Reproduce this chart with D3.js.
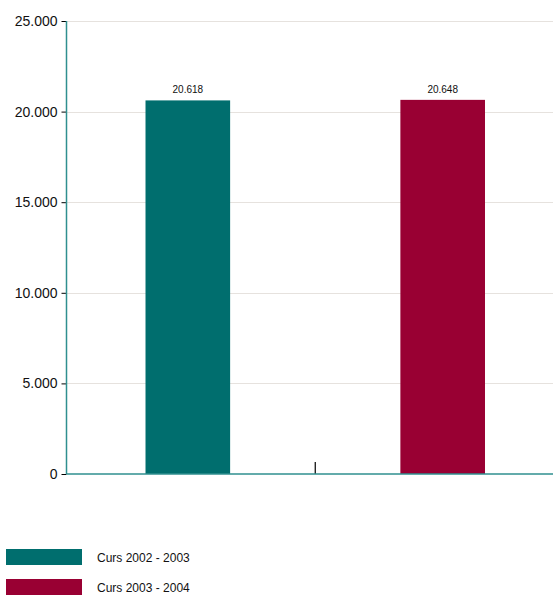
<!DOCTYPE html>
<html><head><meta charset="utf-8">
<script src="https://cdn.jsdelivr.net/npm/d3@7"></script>
<style>body{margin:0;background:#fff;}svg{display:block;font-family:"Liberation Sans",Arial,sans-serif;}</style>
</head><body><svg id="c" width="553" height="596"></svg>
<script>
const categories = [""];
const seriesNames = ["Curs 2002 - 2003", "Curs 2003 - 2004"];
const seriesValues = [20618, 20648];
const seriesColors = ["#006e6e", "#990033"];
const yTicks = [0, 5000, 10000, 15000, 20000, 25000];

const svg = d3.select("#c");
const mLeft = 66.5, mRight = 564, mTop = 21, mBottom = 474;
const y = d3.scaleLinear().domain([0, 25000]).range([mBottom, mTop]);
const x0 = d3.scaleBand().domain(categories).range([mLeft, mRight]);
const x1 = d3.scaleBand().domain(seriesNames).range([0, x0.bandwidth()]).paddingInner(0.668).paddingOuter(0.31);
const fmt = v => d3.format(",")(v).replace(/,/g, ".");

// gridlines
svg.append("g").selectAll("line").data(yTicks.filter(d => d > 0)).join("line")
  .attr("x1", mLeft).attr("x2", 553).attr("y1", d => Math.round(y(d)) + 0.5).attr("y2", d => Math.round(y(d)) + 0.5)
  .attr("stroke", "#e6e2de").attr("stroke-width", 1);

// y axis
const yAxis = svg.append("g").attr("transform", `translate(${mLeft},0)`)
  .call(d3.axisLeft(y).tickValues(yTicks).tickFormat(fmt).tickSize(5).tickPadding(4));
yAxis.select(".domain").remove();
yAxis.selectAll(".tick line").attr("stroke", "#000");
yAxis.selectAll(".tick text").attr("font-size", 14).attr("fill", "#111").attr("font-family", "Liberation Sans, Arial, sans-serif");
svg.append("line").attr("x1", mLeft).attr("x2", mLeft).attr("y1", mTop).attr("y2", mBottom).attr("stroke", "#2f8f8f").attr("stroke-width", 1.5);

// bars
const g = svg.append("g");
categories.forEach(cat => {
  seriesNames.forEach((s, i) => {
    const bx = x0(cat) + x1(s);
    g.append("rect").attr("x", bx).attr("y", y(seriesValues[i]))
      .attr("width", x1.bandwidth()).attr("height", y(0) - y(seriesValues[i]))
      .attr("fill", seriesColors[i]);
    g.append("text").attr("x", bx + x1.bandwidth() / 2).attr("y", y(seriesValues[i]) - 7)
      .attr("text-anchor", "middle").attr("font-size", 10).attr("fill", "#111").text(fmt(seriesValues[i]));
  });
  // category tick
  const cx = x0(cat) + x0.bandwidth() / 2;
  svg.append("line").attr("x1", cx).attr("x2", cx).attr("y1", mBottom - 12).attr("y2", mBottom).attr("stroke", "#000").attr("stroke-width", 1.2);
});

// x axis line
svg.append("line").attr("x1", mLeft).attr("x2", 553).attr("y1", mBottom).attr("y2", mBottom).attr("stroke", "#2f8f8f").attr("stroke-width", 1.5);

// legend
const leg = svg.append("g");
seriesNames.forEach((s, i) => {
  const ly = 549 + i * 30;
  leg.append("rect").attr("x", 6).attr("y", ly).attr("width", 76).attr("height", 16).attr("fill", seriesColors[i]);
  leg.append("text").attr("x", 97).attr("y", ly + 13).attr("font-size", 12).attr("fill", "#111").text(s);
});
</script></body></html>
